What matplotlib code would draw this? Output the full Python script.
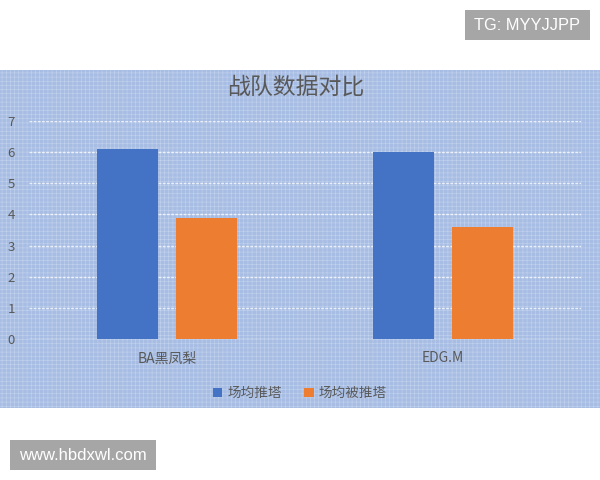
import matplotlib
matplotlib.use('Agg')
import matplotlib.pyplot as plt
from matplotlib.patches import Rectangle
import numpy as np

plt.rcParams['font.family'] = ['Noto Sans CJK SC', 'DejaVu Sans']
plt.rcParams['hatch.linewidth'] = 0.4

# datos
equipos = ['BA黑凤梨', 'EDG.M']
series = ['场均推塔', '场均被推塔']
tuijta = [6.1, 6.0]
bei_tuita = [3.9, 3.6]
colores = ['#4472C4', '#ED7D31']
yticks = [0, 1, 2, 3, 4, 5, 6, 7]

gris = '#595959'
fondo = '#a7bde3'

fig = plt.figure(figsize=(6, 4.8), dpi=100)
fig.patch.set_facecolor('white')

# fondo del grafico (zona azul)
fig.patches.append(Rectangle((0, 0.15), 1, 0.704, transform=fig.transFigure,
                             facecolor=fondo, edgecolor='#c3d3ee', hatch='++++',
                             linewidth=0, zorder=0))

ax = fig.add_axes([0.0483, 0.2938, 0.92, 0.454])
ax.set_facecolor('none')
ax.set_zorder(2)

x = np.arange(len(equipos))
ancho = 0.221
ax.bar(x - 0.143, tuijta, ancho, color=colores[0], label=series[0], zorder=3)
ax.bar(x + 0.143, bei_tuita, ancho, color=colores[1], label=series[1], zorder=3)

ax.set_xlim(-0.5, 1.5)
ax.set_ylim(0, 7)
ax.set_yticks(yticks)
ax.set_xticks(x)
ax.set_xticklabels(equipos)
ax.tick_params(axis='y', length=0, pad=10, labelsize=9.5, labelcolor=gris)
ax.tick_params(axis='x', length=0, pad=9, labelsize=10, labelcolor=gris)
ax.grid(axis='y', color='white', alpha=0.75, linestyle=(0, (2, 1)), linewidth=1, zorder=1)
for s in ax.spines.values():
    s.set_visible(False)
ax.axhline(0, color='#d9e2f3', linewidth=1, zorder=2)

fig.text(0.493, 0.819, '战队数据对比', ha='center', va='center', fontsize=16.5, color=gris)

leg = fig.legend(loc='center', bbox_to_anchor=(0.5, 0.181), ncol=2, frameon=False,
                 handlelength=0.7, handleheight=0.7, handletextpad=0.4, columnspacing=1.6,
                 prop={'size': 9.8}, labelcolor=gris)
leg.set_zorder(3)

# marcas de agua
fig.patches.append(Rectangle((465 / 600, 1 - 40 / 480), 125 / 600, 30 / 480,
                             transform=fig.transFigure, facecolor='#a6a6a6',
                             edgecolor='none', zorder=5))
fig.text(527.5 / 600, 1 - 25 / 480, 'TG: MYYJJPP', ha='center', va='center',
         fontsize=11.8, color='white', family=['Liberation Sans', 'DejaVu Sans'], zorder=6)
fig.patches.append(Rectangle((10 / 600, 1 - 470 / 480), 146 / 600, 30 / 480,
                             transform=fig.transFigure, facecolor='#a6a6a6',
                             edgecolor='none', zorder=5))
fig.text(83 / 600, 1 - 455 / 480, 'www.hbdxwl.com', ha='center', va='center',
         fontsize=12, color='white', family=['Liberation Sans', 'DejaVu Sans'], zorder=6)

fig.savefig('out.png', dpi=100, facecolor='white')
plt.close(fig)
